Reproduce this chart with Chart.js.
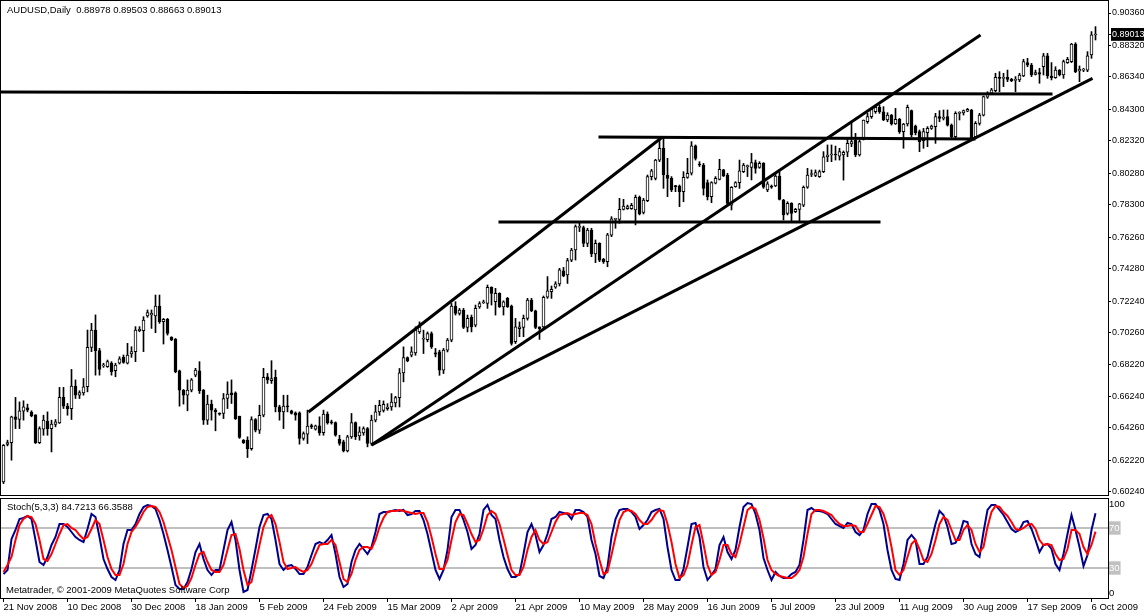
<!DOCTYPE html>
<html><head><meta charset="utf-8">
<script src="https://cdn.jsdelivr.net/npm/chart.js@4.4.0/dist/chart.umd.min.js"></script>
<style>
html,body{margin:0;padding:0;background:#fff;width:1144px;height:616px;overflow:hidden}
#wrap{position:relative;width:1144px;height:616px}
#main{position:absolute;left:0;top:0}
#stoch{position:absolute;left:0;top:497px}
.lbl{position:absolute;font:9.5px 'Liberation Sans',Arial,sans-serif;color:#000;white-space:pre;line-height:12px;pointer-events:none}
</style></head><body>
<div id="wrap">
<canvas id="main" width="1144" height="497"></canvas>
<canvas id="stoch" width="1144" height="119"></canvas>
<div class="lbl" id="title" style="left:7px;top:4px"></div>
<div class="lbl" id="stochTitle" style="left:7px;top:501px"></div>
<div class="lbl" id="copy" style="left:6px;top:584px">Metatrader, © 2001-2009 MetaQuotes Software Corp</div>
</div>
<script>
const symbolName = "AUDUSD,Daily";
const stochName = "Stoch(5,3,3)";

const opens = [0.6087,0.6322,0.6334,0.6496,0.6479,0.6532,0.6553,0.6525,0.6509,0.6334,
0.6418,0.6469,0.6422,0.6448,0.6458,0.6618,0.6563,0.6548,0.6689,0.6632,
0.6647,0.6685,0.6933,0.7042,0.6912,0.6816,0.6811,0.6833,0.6786,0.6833,
0.6870,0.6833,0.6891,0.6906,0.7038,0.7038,0.7130,0.7137,0.7130,0.7193,
0.7094,0.7109,0.6996,0.6983,0.6786,0.6664,0.6632,0.6664,0.6758,0.6786,
0.6664,0.6475,0.6576,0.6538,0.6517,0.6517,0.6611,0.6647,0.6647,0.6500,
0.6349,0.6349,0.6296,0.6479,0.6412,0.6506,0.6748,0.6723,0.6744,0.6559,
0.6527,0.6563,0.6534,0.6521,0.6521,0.6360,0.6387,0.6441,0.6418,0.6439,
0.6397,0.6513,0.6464,0.6460,0.6355,0.6339,0.6282,0.6370,0.6460,0.6376,
0.6395,0.6422,0.6328,0.6475,0.6526,0.6537,0.6548,0.6558,0.6583,0.6617,
0.6772,0.6869,0.6883,0.6898,0.7030,0.6985,0.6982,0.7020,0.6898,0.6904,
0.6789,0.6915,0.6978,0.7192,0.7146,0.7167,0.7058,0.7121,0.7072,0.7188,
0.7213,0.7209,0.7310,0.7220,0.7272,0.7188,0.7241,0.7192,0.6968,0.7051,
0.7058,0.7115,0.7230,0.7163,0.7062,0.7062,0.7248,0.7283,0.7311,0.7332,
0.7415,0.7388,0.7482,0.7545,0.7688,0.7686,0.7587,0.7671,0.7520,0.7587,
0.7487,0.7472,0.7638,0.7738,0.7738,0.7801,0.7805,0.7805,0.7797,0.7877,
0.7782,0.7856,0.8006,0.7996,0.8111,0.8185,0.8017,0.7996,0.7948,0.7948,
0.7912,0.8002,0.8028,0.8200,0.8086,0.8080,0.7969,0.7881,0.7965,0.7990,
0.8049,0.8017,0.7828,0.7944,0.7969,0.8038,0.8070,0.8065,0.8095,0.8065,
0.8090,0.7923,0.7948,0.7948,0.8010,0.7860,0.7776,0.7839,0.7786,0.7801,
0.7828,0.7940,0.8020,0.8015,0.8006,0.8038,0.8132,0.8143,0.8147,0.8136,
0.8143,0.8160,0.8212,0.8237,0.8143,0.8248,0.8353,0.8384,0.8415,0.8443,
0.8415,0.8363,0.8394,0.8338,0.8367,0.8290,0.8338,0.8422,0.8325,0.8290,
0.8233,0.8283,0.8310,0.8321,0.8384,0.8373,0.8384,0.8331,0.8258,0.8405,
0.8408,0.8418,0.8426,0.8258,0.8342,0.8394,0.8506,0.8531,0.8548,0.8631,
0.8625,0.8631,0.8619,0.8612,0.8615,0.8640,0.8724,0.8709,0.8650,0.8661,
0.8698,0.8766,0.8640,0.8630,0.8677,0.8646,0.8724,0.8730,0.8841,0.8671,
0.8677,0.8677,0.8772,0.88978];

const highs = [0.6322,0.6349,0.6500,0.6618,0.6590,0.6597,0.6576,0.6534,0.6509,0.6433,
0.6506,0.6527,0.6475,0.6479,0.6681,0.6681,0.6580,0.6794,0.6728,0.6660,
0.6737,0.7042,0.7084,0.7137,0.6927,0.6833,0.6853,0.6843,0.6833,0.6874,
0.6885,0.6958,0.6937,0.7063,0.7063,0.7126,0.7168,0.7168,0.7262,0.7262,
0.7115,0.7115,0.7000,0.6989,0.6790,0.6668,0.6728,0.6737,0.6801,0.6843,
0.6668,0.6632,0.6601,0.6548,0.6521,0.6643,0.6716,0.6728,0.6653,0.6500,
0.6353,0.6370,0.6496,0.6485,0.6569,0.6801,0.6769,0.6849,0.6790,0.6569,
0.6632,0.6632,0.6538,0.6527,0.6527,0.6401,0.6538,0.6450,0.6444,0.6496,
0.6538,0.6527,0.6475,0.6464,0.6380,0.6349,0.6380,0.6517,0.6464,0.6433,
0.6433,0.6429,0.6506,0.6569,0.6600,0.6596,0.6579,0.6642,0.6625,0.6800,
0.6936,0.6873,0.6936,0.7062,0.7093,0.7041,0.7030,0.7030,0.6926,0.6915,
0.6926,0.6989,0.7209,0.7220,0.7178,0.7178,0.7136,0.7136,0.7199,0.7220,
0.7230,0.7325,0.7314,0.7304,0.7276,0.7226,0.7247,0.7199,0.7115,0.7093,
0.7136,0.7241,0.7241,0.7167,0.7062,0.7256,0.7378,0.7319,0.7346,0.7430,
0.7436,0.7493,0.7556,0.7703,0.7713,0.7696,0.7682,0.7682,0.7608,0.7591,
0.7493,0.7650,0.7755,0.7745,0.7870,0.7864,0.7828,0.7839,0.7891,0.7885,
0.7870,0.8017,0.8053,0.8116,0.8248,0.8248,0.8122,0.8007,0.7952,0.7954,
0.8038,0.8122,0.8227,0.8206,0.8101,0.8090,0.7986,0.7975,0.8007,0.8116,
0.8053,0.8028,0.7944,0.7975,0.8111,0.8090,0.8080,0.8153,0.8111,0.8101,
0.8095,0.7975,0.7954,0.8020,0.8038,0.7864,0.7849,0.7843,0.7807,0.7839,
0.7948,0.8059,0.8049,0.8049,0.8048,0.8164,0.8206,0.8206,0.8199,0.8185,
0.8168,0.8248,0.8342,0.8279,0.8237,0.8363,0.8405,0.8436,0.8457,0.8457,
0.8447,0.8409,0.8398,0.8436,0.8373,0.8342,0.8457,0.8426,0.8331,0.8300,
0.8310,0.8321,0.8331,0.8405,0.8422,0.8426,0.8426,0.8338,0.8415,0.8415,
0.8426,0.8436,0.8430,0.8353,0.8405,0.8514,0.8541,0.8562,0.8657,0.8667,
0.8657,0.8677,0.8625,0.8636,0.8657,0.8745,0.8751,0.8719,0.8677,0.8688,
0.8782,0.8782,0.8724,0.8698,0.8680,0.8740,0.8757,0.8845,0.8849,0.8703,
0.8688,0.8793,0.8919,0.89503];

const lows = [0.6076,0.6313,0.6223,0.6422,0.6422,0.6475,0.6527,0.6496,0.6328,0.6328,
0.6380,0.6380,0.6275,0.6433,0.6454,0.6548,0.6506,0.6479,0.6611,0.6611,
0.6632,0.6653,0.6906,0.6758,0.6758,0.6807,0.6807,0.6758,0.6748,0.6828,
0.6833,0.6828,0.6870,0.6843,0.7031,0.6906,0.7122,0.7052,0.7025,0.7084,
0.6954,0.7010,0.6975,0.6773,0.6563,0.6576,0.6534,0.6653,0.6748,0.6643,
0.6448,0.6448,0.6475,0.6408,0.6506,0.6485,0.6548,0.6580,0.6479,0.6360,
0.6328,0.6240,0.6286,0.6401,0.6391,0.6496,0.6706,0.6706,0.6527,0.6475,
0.6422,0.6527,0.6513,0.6475,0.6324,0.6349,0.6328,0.6422,0.6412,0.6380,
0.6380,0.6450,0.6450,0.6374,0.6317,0.6275,0.6275,0.6360,0.6353,0.6349,
0.6380,0.6307,0.6317,0.6464,0.6505,0.6526,0.6537,0.6537,0.6558,0.6558,
0.6716,0.6842,0.6873,0.6883,0.7020,0.6894,0.6968,0.6926,0.6873,0.6757,
0.6768,0.6904,0.6968,0.7136,0.7136,0.7051,0.7030,0.7030,0.7062,0.7178,
0.7209,0.7178,0.7199,0.7136,0.7184,0.7136,0.7184,0.6947,0.6957,0.7000,
0.7000,0.7104,0.7157,0.7051,0.6983,0.7051,0.7241,0.7241,0.7304,0.7319,
0.7377,0.7335,0.7472,0.7482,0.7661,0.7566,0.7566,0.7503,0.7466,0.7472,
0.7461,0.7440,0.7629,0.7682,0.7713,0.7797,0.7801,0.7801,0.7703,0.7766,
0.7772,0.7849,0.7986,0.7986,0.8101,0.7933,0.7881,0.7912,0.7912,0.7818,
0.7849,0.7996,0.8017,0.8111,0.8070,0.7891,0.7860,0.7843,0.7961,0.7986,
0.8007,0.7828,0.7797,0.7940,0.7933,0.8032,0.8007,0.7986,0.8028,0.8059,
0.7933,0.7912,0.7933,0.7944,0.7860,0.7734,0.7766,0.7724,0.7780,0.7724,
0.7818,0.7933,0.8007,0.8007,0.8002,0.8032,0.8101,0.8101,0.8111,0.8111,
0.7985,0.8132,0.8195,0.8132,0.8136,0.8237,0.8342,0.8373,0.8405,0.8405,
0.8359,0.8352,0.8331,0.8335,0.8279,0.8185,0.8325,0.8258,0.8269,0.8164,
0.8185,0.8195,0.8304,0.8216,0.8352,0.8363,0.8325,0.8248,0.8248,0.8363,
0.8394,0.8415,0.8241,0.8254,0.8331,0.8388,0.8499,0.8527,0.8541,0.8541,
0.8573,0.8604,0.8604,0.8541,0.8604,0.8636,0.8698,0.8636,0.8646,0.8594,
0.8646,0.8625,0.8615,0.8625,0.8640,0.8625,0.8719,0.8724,0.8661,0.8604,
0.8667,0.8667,0.8751,0.88663];

const closes = [0.6317,0.6334,0.6496,0.6479,0.6534,0.6559,0.6538,0.6502,0.6334,0.6422,
0.6475,0.6422,0.6450,0.6464,0.6618,0.6563,0.6548,0.6689,0.6632,0.6649,
0.6685,0.6933,0.7042,0.6912,0.6794,0.6822,0.6843,0.6780,0.6822,0.6860,
0.6838,0.6885,0.6906,0.7042,0.7046,0.7105,0.7151,0.7147,0.7193,0.7094,
0.7109,0.7021,0.6979,0.6780,0.6664,0.6632,0.6664,0.6728,0.6790,0.6660,
0.6475,0.6576,0.6538,0.6527,0.6513,0.6611,0.6639,0.6634,0.6485,0.6366,
0.6334,0.6296,0.6479,0.6412,0.6506,0.6744,0.6728,0.6737,0.6559,0.6527,
0.6563,0.6559,0.6517,0.6506,0.6360,0.6391,0.6437,0.6433,0.6439,0.6395,
0.6513,0.6458,0.6458,0.6380,0.6328,0.6282,0.6370,0.6460,0.6370,0.6401,
0.6422,0.6328,0.6475,0.6527,0.6568,0.6575,0.6558,0.6589,0.6617,0.6772,
0.6869,0.6848,0.6904,0.7041,0.7062,0.6992,0.7020,0.6936,0.6890,0.6789,
0.6915,0.6978,0.7192,0.7146,0.7167,0.7058,0.7115,0.7062,0.7178,0.7209,
0.7220,0.7310,0.7272,0.7272,0.7188,0.7220,0.7188,0.6957,0.7062,0.7062,
0.7115,0.7230,0.7163,0.7058,0.7051,0.7248,0.7288,0.7298,0.7332,0.7420,
0.7384,0.7478,0.7545,0.7692,0.7692,0.7587,0.7671,0.7520,0.7587,0.7482,
0.7472,0.7640,0.7742,0.7742,0.7801,0.7822,0.7818,0.7826,0.7877,0.7772,
0.7860,0.8007,0.8044,0.8111,0.8185,0.8017,0.7996,0.7923,0.7944,0.7912,
0.8002,0.8028,0.8200,0.8122,0.8080,0.7933,0.7881,0.7969,0.7996,0.8053,
0.8011,0.7839,0.7940,0.7969,0.8044,0.8080,0.8072,0.8095,0.8059,0.8090,
0.7940,0.7961,0.7940,0.8010,0.7864,0.7766,0.7839,0.7776,0.7801,0.7835,
0.7940,0.8017,0.8024,0.8032,0.8038,0.8132,0.8143,0.8147,0.8143,0.8164,
0.8160,0.8216,0.8227,0.8143,0.8227,0.8363,0.8384,0.8430,0.8443,0.8415,
0.8363,0.8394,0.8338,0.8367,0.8290,0.8338,0.8443,0.8269,0.8283,0.8227,
0.8290,0.8310,0.8325,0.8384,0.8373,0.8380,0.8331,0.8258,0.8405,0.8408,
0.8422,0.8430,0.8248,0.8342,0.8394,0.8510,0.8531,0.8552,0.8631,0.8625,
0.8631,0.8619,0.8610,0.8615,0.8646,0.8730,0.8709,0.8646,0.8661,0.8652,
0.8766,0.8640,0.8630,0.8677,0.8646,0.8730,0.8745,0.8841,0.8667,0.8682,
0.8680,0.8766,0.8898,0.89013];

const stochMain = [24,28,59,68,79,80,82,79,58,36,
33,41,53,61,74,74,71,66,61,58,
56,69,84,81,61,39,29,21,18,28,
54,68,68,74,84,91,93,92,89,78,
64,48,31,13,9,9,16,29,46,54,
39,28,23,28,28,48,68,76,58,28,
6,8,28,49,71,83,84,79,58,34,
28,32,33,29,24,24,31,43,54,56,
54,58,63,44,21,11,14,36,48,54,
49,44,51,66,84,86,86,87,88,87,
88,83,84,87,87,78,64,46,28,19,
28,48,81,88,88,78,66,49,53,64,
88,93,83,79,58,41,29,21,21,24,
44,66,74,63,46,53,64,79,81,86,
85,84,79,88,88,86,81,58,44,22,
20,31,61,79,88,89,89,86,81,69,
73,78,86,88,89,79,51,28,18,18,
29,51,74,75,61,31,18,23,29,53,
61,46,39,48,71,91,95,94,84,68,
40,28,18,26,22,20,20,24,26,33,
58,88,90,87,87,86,84,79,74,72,
70,75,74,66,63,68,84,94,94,88,
74,48,28,19,18,34,58,63,58,34,
34,41,58,74,87,83,71,54,55,63,
77,76,54,44,41,66,88,93,93,88,
83,76,69,66,68,76,77,69,58,46,
53,54,49,34,28,44,64,83,68,51,
32,43,68,84.7213];

const stochSignal = [26,33,41,58,73,79,82,81,74,58,
39,37,44,54,64,73,74,70,68,63,
59,61,69,78,74,58,41,29,23,23,
34,54,66,71,78,86,91,92,91,86,
76,62,48,31,14,10,12,20,33,44,
46,36,28,26,26,33,48,63,64,49,
28,13,16,34,53,71,80,83,74,56,
36,29,30,31,28,26,28,34,44,53,
54,54,58,53,36,19,16,24,38,48,
51,51,49,58,71,80,86,87,87,88,
87,86,85,84,85,85,76,61,44,29,
29,38,58,76,84,83,74,64,56,58,
69,83,87,84,74,59,43,28,23,23,
31,48,61,68,58,54,56,66,76,83,
84,85,83,84,85,85,83,74,54,38,
24,26,43,61,78,86,88,87,84,78,
74,74,78,84,88,87,74,56,34,20,
23,33,53,71,73,54,33,23,26,38,
53,53,44,41,54,71,88,91,89,78,
60,38,28,24,22,21,20,20,23,28,
41,64,84,88,88,87,85,83,78,74,
72,72,73,72,66,66,74,83,92,91,
84,71,51,28,23,28,41,54,58,49,
38,36,44,58,74,81,78,68,58,58,
68,73,68,54,46,51,71,86,92,91,
86,82,76,69,68,70,73,74,69,58,
53,54,53,44,38,39,49,68,68,64,
51,44,53,66.3588];

const stochLevels = [30, 70];

const priceTicks = [0.90360,0.88320,0.86340,0.84300,0.82320,0.80280,0.78300,0.76260,
0.74280,0.72240,0.70260,0.68220,0.66240,0.64260,0.62220,0.60240];

const dateTickBars = [0,16,32,48,64,80,96,112,128,144,160,176,192,208,224,240,256,272];
const dateTickLabels = ["21 Nov 2008","10 Dec 2008","30 Dec 2008","18 Jan 2009","5 Feb 2009",
"24 Feb 2009","15 Mar 2009","2 Apr 2009","21 Apr 2009","10 May 2009","28 May 2009",
"16 Jun 2009","5 Jul 2009","23 Jul 2009","11 Aug 2009","30 Aug 2009","17 Sep 2009","6 Oct 2009"];

// hand-drawn trend lines: [barFrom, priceFrom, barTo, priceTo]
const trendLines = [
  [-0.75, 0.8539, 262.25, 0.8527],
  [148.75, 0.8256, 243.0, 0.8243],
  [123.75, 0.7721, 219.25, 0.7721],
  [76.25, 0.6526, 164.75, 0.8256],
  [92.0, 0.6319, 244.25, 0.8898],
  [92.0, 0.6319, 272.25, 0.8625]
];

/* ---------- rendering ---------- */
Chart.defaults.font.family = "'Liberation Sans',Arial,sans-serif";
Chart.defaults.font.size = 9;
Chart.defaults.color = '#000';

const n = closes.length;
const last = n - 1;
const lastClose = closes[last];
document.getElementById('title').textContent =
  symbolName + '  ' + [opens[last], highs[last], lows[last], closes[last]].map(v => v.toFixed(5)).join(' ');
document.getElementById('stochTitle').textContent =
  stochName + ' ' + stochMain[last].toFixed(4) + ' ' + stochSignal[last].toFixed(4);

const X_MIN = -0.875, X_MAX = 276.125;
const framePlugin = {
  id: 'frame',
  afterDraw(chart) {
    const {ctx, chartArea: a} = chart;
    ctx.save();
    ctx.strokeStyle = '#000';
    ctx.lineWidth = 1;
    ctx.strokeRect(a.left + 0.5, a.top + 0.5, a.right - a.left, a.bottom - a.top);
    ctx.restore();
  }
};

const bodyData = closes.map((c, i) => ({x: i, y: [opens[i], c]}));
const wickData = closes.map((c, i) => ({x: i, y: [lows[i], highs[i]]}));
const bodyColors = closes.map((c, i) => c >= opens[i] ? '#ffffff' : '#000000');

const lineSets = trendLines.map(t => ({
  type: 'line',
  data: [{x: t[0], y: t[1]}, {x: t[2], y: t[3]}],
  borderColor: '#000', borderWidth: 3, pointRadius: 0, fill: false, order: 0
}));

new Chart(document.getElementById('main'), {
  type: 'bar',
  data: {
    datasets: [
      ...lineSets,
      {type: 'bar', data: bodyData, backgroundColor: bodyColors, borderColor: '#000',
       borderWidth: 1, borderSkipped: false, barThickness: 3, minBarLength: 1,
       grouped: false, order: 1},
      {type: 'bar', data: wickData, backgroundColor: '#000', borderWidth: 0,
       barThickness: 1, grouped: false, order: 2}
    ]
  },
  options: {
    responsive: false, animation: false, events: [],
    layout: {padding: {top: 0, bottom: 2, left: 0, right: 0}},
    plugins: {legend: {display: false}, tooltip: {enabled: false}},
    scales: {
      x: {type: 'linear', min: X_MIN, max: X_MAX, display: false, offset: false},
      y: {
        type: 'linear', position: 'right', min: 0.60042, max: 0.91178,
        grid: {drawOnChartArea: false, tickLength: 3, color: '#000'},
        border: {display: false},
        ticks: {
          padding: 1, autoSkip: false,
          callback: v => v.toFixed(5),
          color: ctx => (ctx.tick && ctx.tick.value === lastClose) ? '#fff' : '#000',
          showLabelBackdrop: ctx => !!(ctx.tick && ctx.tick.value === lastClose),
          backdropColor: ctx => (ctx.tick && ctx.tick.value === lastClose) ? '#000' : 'rgba(0,0,0,0)',
          backdropPadding: {left: 1, right: 3, top: 1, bottom: 1}
        },
        afterBuildTicks: s => { s.ticks = priceTicks.concat([lastClose]).map(v => ({value: v})); },
        afterFit: s => { s.width = 36; s.paddingTop = 0; s.paddingBottom = 0; }
      }
    }
  },
  plugins: [framePlugin]
});

const stochTickMap = [[94, '100'], [70, '70'], [30, '30'], [5, '0']];
new Chart(document.getElementById('stoch'), {
  type: 'line',
  data: {
    datasets: [
      {data: stochMain.map((v, i) => ({x: i, y: v})), borderColor: '#00008b', borderWidth: 2,
       pointRadius: 0, order: 1},
      {data: stochSignal.map((v, i) => ({x: i, y: v})), borderColor: '#ff0000', borderWidth: 2,
       pointRadius: 0, order: 0}
    ]
  },
  options: {
    responsive: false, animation: false, events: [],
    layout: {padding: {top: 1, bottom: 0, left: 0, right: 0}},
    plugins: {legend: {display: false}, tooltip: {enabled: false}},
    scales: {
      x: {
        type: 'linear', min: X_MIN, max: X_MAX, position: 'bottom', offset: false,
        grid: {drawOnChartArea: false, tickLength: 4, color: '#000'},
        border: {display: false},
        ticks: {
          align: 'start', padding: 0, autoSkip: false, maxRotation: 0, font: {size: 9.5},
          callback: v => { const k = dateTickBars.indexOf(v); return k >= 0 ? dateTickLabels[k] : ''; }
        },
        afterBuildTicks: s => { s.ticks = dateTickBars.map(v => ({value: v})); },
        afterFit: s => { s.height = 18; s.paddingLeft = 0; s.paddingRight = 0; }
      },
      y: {
        type: 'linear', position: 'right', min: 0, max: 100,
        grid: {
          color: ctx => (ctx.tick && stochLevels.includes(ctx.tick.value)) ? '#c0c0c0' : 'rgba(0,0,0,0)',
          lineWidth: 2, drawTicks: false
        },
        border: {display: false},
        ticks: {
          padding: 1, autoSkip: false, font: {size: 9.5},
          callback: v => { const e = stochTickMap.find(t => t[0] === v); return e ? e[1] : ''; },
          color: ctx => (ctx.tick && stochLevels.includes(ctx.tick.value)) ? '#fff' : '#000',
          showLabelBackdrop: ctx => !!(ctx.tick && stochLevels.includes(ctx.tick.value)),
          backdropColor: ctx => (ctx.tick && stochLevels.includes(ctx.tick.value)) ? '#c0c0c0' : 'rgba(0,0,0,0)',
          backdropPadding: {left: 1, right: 1, top: 1, bottom: 1}
        },
        afterBuildTicks: s => { s.ticks = stochTickMap.map(t => ({value: t[0]})); },
        afterFit: s => { s.width = 36; s.paddingTop = 0; s.paddingBottom = 0; }
      }
    }
  },
  plugins: [framePlugin]
});
</script>
</body></html>
